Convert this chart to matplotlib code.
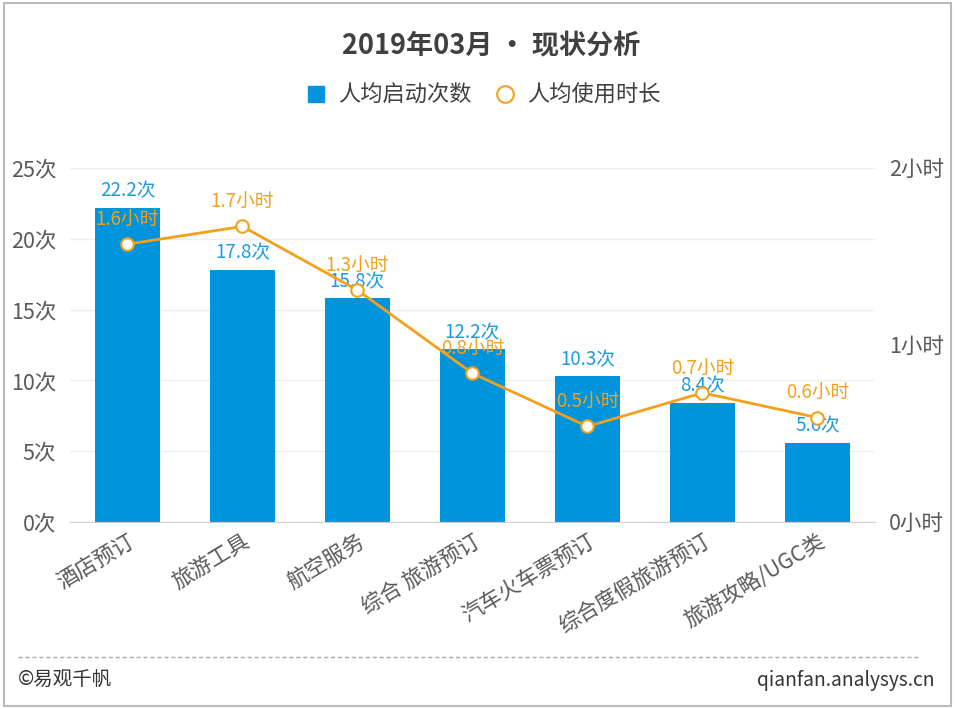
import matplotlib.pyplot as plt
from matplotlib.lines import Line2D
from matplotlib.patches import Rectangle

plt.rcParams['font.family'] = ['Noto Sans CJK SC', 'DejaVu Sans']

categories = ['酒店预订', '旅游工具', '航空服务', '综合 旅游预订', '汽车火车票预订', '综合度假旅游预订', '旅游攻略/UGC类']
launches = [22.2, 17.8, 15.8, 12.2, 10.3, 8.4, 5.6]
hours = [1.57, 1.67, 1.31, 0.84, 0.54, 0.73, 0.59]
left_ticks = [0, 5, 10, 15, 20, 25]
right_ticks = [0, 1, 2]

blue = '#0094DC'
orange = '#F5A01A'
gray = '#595959'

fig = plt.figure(figsize=(9.55, 7.09), dpi=100)
fig.patches.append(Rectangle((0.004, 0.004), 0.992, 0.992, transform=fig.transFigure,
                             fill=False, edgecolor='#BBBBBB', linewidth=1.5))

ax = fig.add_axes([0.0733, 0.2637, 0.8429, 0.4993])
x = list(range(len(categories)))
ax.bar(x, launches, width=0.565, color=blue, zorder=2)
ax.set_xlim(-0.5, 6.5)
ax.set_ylim(0, 25)
ax.set_yticks(left_ticks)
ax.set_yticklabels([f'{t}次' for t in left_ticks], fontsize=15.5, color=gray)
ax.set_xticks(x)
ax.set_xticklabels(categories, rotation=31, ha='right', rotation_mode='anchor',
                   fontsize=15.5, color=gray)
ax.tick_params(axis='y', length=0, pad=10)
ax.tick_params(axis='x', length=0, pad=6)
ax.grid(axis='y', color='#EEEEEE', linewidth=1, zorder=0)
for s in ['top', 'left', 'right']:
    ax.spines[s].set_visible(False)
ax.spines['bottom'].set_color('#D0D0D0')

for i, v in enumerate(launches):
    ax.text(i, v + 0.45, f'{v}次', ha='center', va='bottom', fontsize=13.5, color='#1E9BE0', zorder=5)

ax2 = ax.twinx()
ax2.set_ylim(0, 2)
ax2.set_yticks(right_ticks)
ax2.set_yticklabels([f'{t}小时' for t in right_ticks], fontsize=15.5, color=gray)
ax2.tick_params(length=0, pad=10)
for s in ['top', 'left', 'right', 'bottom']:
    ax2.spines[s].set_visible(False)
ax2.plot(x, hours, color=orange, linewidth=2, marker='o', markersize=9,
         markerfacecolor='white', markeredgecolor=orange, markeredgewidth=1.5, zorder=4)
for i, v in enumerate(hours):
    ax2.text(i, v + 0.075, f'{v:.1f}小时', ha='center', va='bottom', fontsize=13.5, color=orange, zorder=6)

fig.text(0.514, 0.935, '2019年03月 • 现状分析', ha='center', va='center',
         fontsize=19.5, fontweight='bold', color='#404040')

handles = [Line2D([], [], marker='s', color=blue, linestyle='none', markersize=12),
           Line2D([], [], marker='o', color=orange, markerfacecolor='white', linestyle='none',
                  markersize=12, markeredgewidth=1.5)]
fig.legend(handles, ['人均启动次数', '人均使用时长'], loc='center', bbox_to_anchor=(0.5, 0.866),
           ncol=2, frameon=False, fontsize=16, handletextpad=0.0, columnspacing=0.5,
           labelcolor='#404040')

fig.add_artist(Line2D([0.019, 0.961], [0.073, 0.073], transform=fig.transFigure,
                      color='#AAAAAA', linestyle=(0, (3, 2)), linewidth=1))
fig.text(0.019, 0.04, '©易观千帆', ha='left', va='center', fontsize=14, color='#333333')
fig.text(0.979, 0.04, 'qianfan.analysys.cn', ha='right', va='center', fontsize=13.8, color='#333333')

fig.savefig('out.png', dpi=100)
